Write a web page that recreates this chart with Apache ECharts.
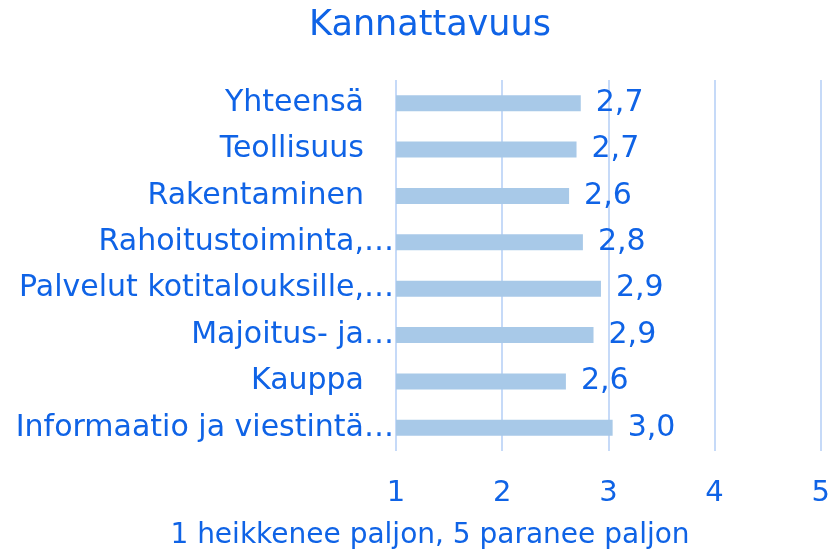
<!DOCTYPE html>
<html>
<head>
<meta charset="utf-8">
<script src="https://cdn.jsdelivr.net/npm/echarts@6/dist/echarts.min.js"></script>
<style>
  html, body { margin: 0; padding: 0; background: #fff; }
  #chart { width: 833px; height: 552px; }
</style>
</head>
<body>
<div id="chart"></div>
<script>
// toimialat ylhäältä alas
var categories = ['Yhteensä', 'Teollisuus', 'Rakentaminen', 'Rahoitustoiminta,…',
  'Palvelut kotitalouksille,…', 'Majoitus- ja…', 'Kauppa', 'Informaatio ja viestintä…'];
// arvot luettu kuvasta (1 heikkenee paljon, 5 paranee paljon)
var values = [2.74, 2.70, 2.63, 2.76, 2.93, 2.86, 2.60, 3.04];
var xTicks = [1, 2, 3, 4, 5];

var blue = '#0f63e6';
var font = 'DejaVu Sans';

var chart = echarts.init(document.getElementById('chart'));
var option = {
  animation: false,
  // otsikko ja akselin nimi graphicilla, jotta keskitys osuu kuten alkuperäisessä
  graphic: [
    {
      type: 'text', x: 430, y: 26,
      style: { text: 'Kannattavuus', fill: blue, font: '35px ' + font, textAlign: 'center', textVerticalAlign: 'middle' }
    },
    {
      type: 'text', x: 430, y: 536,
      style: { text: '1 heikkenee paljon, 5 paranee paljon', fill: blue, font: '28px ' + font, textAlign: 'center', textVerticalAlign: 'middle' }
    }
  ],
  grid: {
    left: 396,
    right: 10,
    top: 80,
    bottom: 101,
    containLabel: false
  },
  xAxis: {
    type: 'value',
    min: xTicks[0],
    max: xTicks[xTicks.length - 1],
    interval: 1,
    axisLine: { show: false },
    axisTick: { show: false },
    splitLine: { show: true, lineStyle: { color: '#c6daf8', width: 2 } },
    axisLabel: { color: blue, fontSize: 29, fontFamily: font, margin: 28 }
  },
  yAxis: {
    type: 'category',
    inverse: true,
    data: categories,
    axisLine: { show: false },
    axisTick: { show: false },
    axisLabel: {
      margin: 2,
      formatter: function (v) {
        // katkaistut nimet ulottuvat akseliin asti, muilla väli
        return v.slice(-1) === '…' ? '{t|' + v + '}' : '{n|' + v + '}';
      },
      rich: {
        t: { color: blue, fontSize: 30, fontFamily: font },
        n: { color: blue, fontSize: 30, fontFamily: font, padding: [0, 30, 0, 0] }
      }
    }
  },
  series: [{
    type: 'bar',
    data: values,
    barWidth: 16,
    itemStyle: { color: '#a8c9e8' },
    label: {
      show: true,
      position: 'right',
      distance: 15,
      color: blue,
      fontSize: 30,
      fontFamily: font,
      formatter: function (p) { return p.value.toFixed(1).replace('.', ','); }
    }
  }]
};
chart.setOption(option);
</script>
</body>
</html>
